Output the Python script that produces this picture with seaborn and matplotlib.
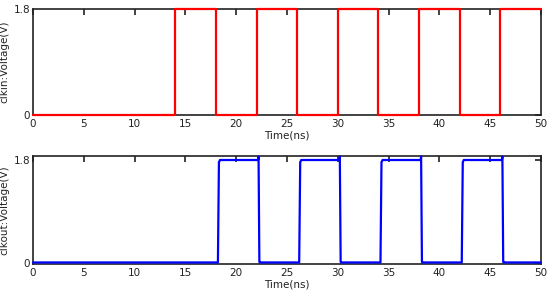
import matplotlib
matplotlib.use("Agg")
import matplotlib.pyplot as plt
import seaborn as sns
import pandas as pd

# clkin waveform breakpoints (ns, V)
clkin_t = [0, 14, 14, 18, 18, 22, 22, 26, 26, 30, 30, 34, 34, 38, 38, 42, 42, 46, 46, 50]
clkin_v = [0, 0, 1.8, 1.8, 0, 0, 1.8, 1.8, 0, 0, 1.8, 1.8, 0, 0, 1.8, 1.8, 0, 0, 1.8, 1.8]

# clkout waveform breakpoints (ns, V)
clkout_t = [0, 18.2, 18.3, 18.4,
            22.15, 22.2, 22.28,
            22.3, 26.2, 26.3, 26.4,
            30.15, 30.2, 30.28,
            30.3, 34.2, 34.3, 34.4,
            38.15, 38.2, 38.28,
            38.3, 42.2, 42.3, 42.4,
            46.15, 46.2, 46.28,
            46.3, 50]
clkout_v = [0.01, 0.01, 1.76, 1.8,
            1.8, 1.86, 0.03,
            0.01, 0.01, 1.76, 1.8,
            1.8, 1.86, 0.03,
            0.01, 0.01, 1.76, 1.8,
            1.8, 1.86, 0.03,
            0.01, 0.01, 1.76, 1.8,
            1.8, 1.86, 0.03,
            0.01, 0.01]

xticks = [0, 5, 10, 15, 20, 25, 30, 35, 40, 45, 50]

sns.set_style("white")
plt.rcParams['font.family'] = ['DejaVu Sans']

fig = plt.figure(figsize=(5.5, 2.92), dpi=100)
ax1 = fig.add_axes([33/550, 1-115/292, (541-33)/550, (115-9)/292])
ax2 = fig.add_axes([33/550, 1-264/292, (541-33)/550, (264-156)/292])

df1 = pd.DataFrame({"t": clkin_t, "v": clkin_v})
df2 = pd.DataFrame({"t": clkout_t, "v": clkout_v})
sns.lineplot(data=df1, x="t", y="v", ax=ax1, color="#ff0000", lw=1.6, sort=False,
             estimator=None, clip_on=False, zorder=5)
sns.lineplot(data=df2, x="t", y="v", ax=ax2, color="#0000ff", lw=1.6, sort=False,
             estimator=None, clip_on=False, zorder=5)

ax1.set_ylim(0, 1.8)
ax2.set_ylim(-0.017, 1.87)
for ax, lab in [(ax1, "clkin:Voltage(V)"), (ax2, "clkout:Voltage(V)")]:
    ax.set_xlim(0, 50)
    ax.set_xticks(xticks)
    ax.set_xticklabels([str(x) for x in xticks])
    ax.set_yticks([0, 1.8])
    ax.set_yticklabels(["0", "1.8"])
    ax.tick_params(direction="in", top=True, right=True, length=4, width=1.2,
                   labelsize=7.5, colors="#222222", pad=2)
    ax.tick_params(axis="x", pad=3)
    for s in ax.spines.values():
        s.set_color("#222222")
        s.set_linewidth(1.2)
        s.set_visible(True)
    ax.set_xlabel("Time(ns)", fontsize=7.5, labelpad=1, color="#222222")
    ax.set_ylabel(lab, fontsize=7.5, labelpad=3, color="#222222")

fig.savefig("out.png", dpi=100)
